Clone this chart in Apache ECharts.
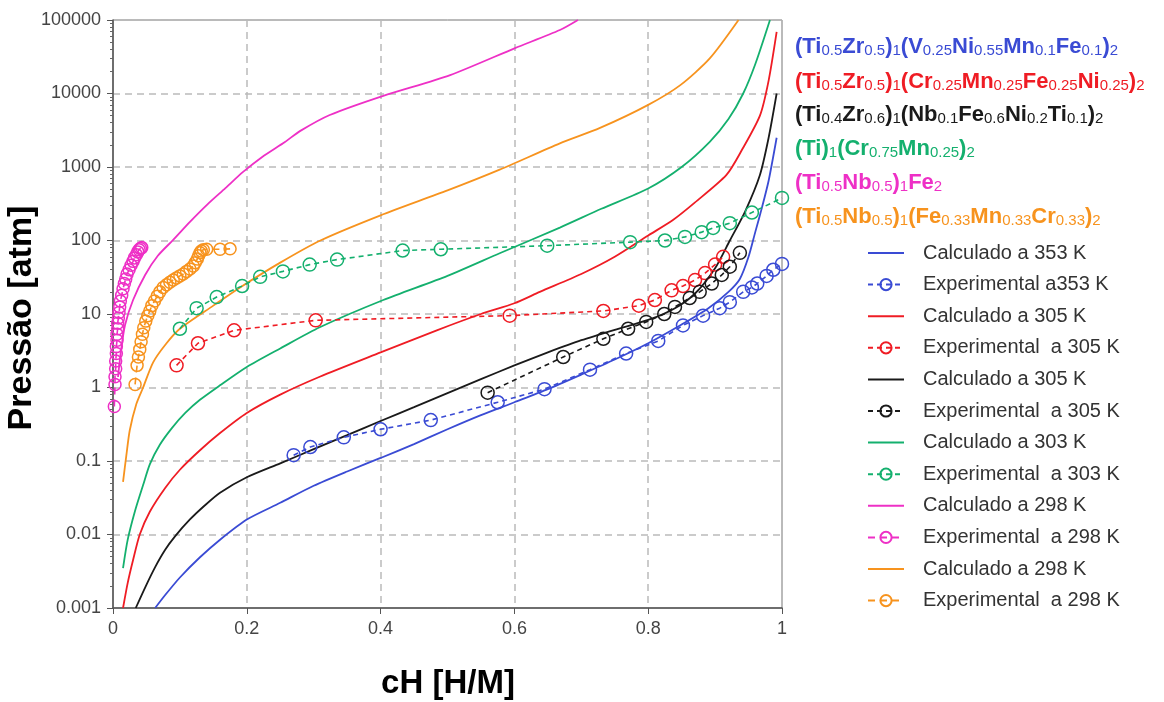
<!DOCTYPE html>
<html><head><meta charset="utf-8">
<script src="https://cdn.jsdelivr.net/npm/echarts@6.0.0/dist/echarts.min.js"></script>
<style>html,body{margin:0;padding:0;background:#fff}#c{width:1164px;height:702px}</style>
</head><body><div id="c"></div>
<script>
// ---------- data (cH [H/M], pressure [atm]) ----------
const xTickLabels = ['0','0.2','0.4','0.6','0.8','1'];
const yTickValues = [0.001,0.01,0.1,1,10,100,1000,10000,100000];
const yTickLabels = ['0.001','0.01','0.1','1','10','100','1000','10000','100000'];

const legendNames = ['Calculado a 353 K','Experimental a353 K','Calculado a 305 K','Experimental  a 305 K',
  'Calculado a 305 K ','Experimental  a 305 K ','Calculado a 303 K','Experimental  a 303 K',
  'Calculado a 298 K','Experimental  a 298 K','Calculado a 298 K ','Experimental  a 298 K '];

const formulas = [
  '(Ti_{0.5}Zr_{0.5})_{1}(V_{0.25}Ni_{0.55}Mn_{0.1}Fe_{0.1})_{2}',
  '(Ti_{0.5}Zr_{0.5})_{1}(Cr_{0.25}Mn_{0.25}Fe_{0.25}Ni_{0.25})_{2}',
  '(Ti_{0.4}Zr_{0.6})_{1}(Nb_{0.1}Fe_{0.6}Ni_{0.2}Ti_{0.1})_{2}',
  '(Ti)_{1}(Cr_{0.75}Mn_{0.25})_{2}',
  '(Ti_{0.5}Nb_{0.5})_{1}Fe_{2}',
  '(Ti_{0.5}Nb_{0.5})_{1}(Fe_{0.33}Mn_{0.33}Cr_{0.33})_{2}'
];

const calc353 = [[0.063,0.001],[0.078,0.0015],[0.1,0.0026],[0.13,0.0049],[0.16,0.0085],[0.2,0.016],[0.25,0.027],[0.3,0.046],[0.35,0.072],[0.4,0.11],[0.45,0.17],[0.5,0.27],[0.55,0.42],[0.6,0.63],[0.65,0.95],[0.7,1.5],[0.75,2.4],[0.8,4],[0.85,7.2],[0.89,12],[0.92,20],[0.937,30],[0.95,60],[0.96,130],[0.97,280],[0.98,650],[0.992,2500]];
const exp353 = [[0.27,0.12],[0.295,0.155],[0.345,0.21],[0.40,0.27],[0.475,0.36],[0.575,0.63],[0.645,0.95],[0.713,1.75],[0.767,2.9],[0.815,4.3],[0.852,7],[0.882,9.5],[0.907,12],[0.922,14.5],[0.942,20],[0.955,23],[0.963,26],[0.977,33],[0.987,40],[1.0,48]];

const calc305a = [[0.015,0.001],[0.022,0.0022],[0.03,0.0045],[0.04,0.01],[0.055,0.0204],[0.078,0.043],[0.1,0.076],[0.13,0.14],[0.16,0.24],[0.2,0.45],[0.25,0.8],[0.309,1.4],[0.4,3],[0.484,6],[0.55,10],[0.6,14],[0.638,20],[0.7,35],[0.75,60],[0.8,117],[0.837,190],[0.87,330],[0.917,780],[0.94,1700],[0.967,5000],[0.98,15000],[0.992,69000]];
const exp305a = [[0.095,2.0],[0.127,4],[0.181,6],[0.303,8.2],[0.593,9.5],[0.733,11],[0.786,13],[0.81,15.5],[0.835,21],[0.852,24],[0.87,29],[0.885,36],[0.9,47],[0.912,60]];

const calc305b = [[0.034,0.001],[0.048,0.0019],[0.063,0.0036],[0.078,0.0062],[0.093,0.0095],[0.115,0.016],[0.1375,0.025],[0.16,0.037],[0.2,0.06],[0.25,0.093],[0.3,0.145],[0.35,0.225],[0.4,0.35],[0.45,0.54],[0.5,0.84],[0.55,1.3],[0.6,2.0],[0.65,3.0],[0.7,4.4],[0.75,6.1],[0.8,8.3],[0.84,12],[0.87,19],[0.9,42],[0.922,100],[0.945,250],[0.967,780],[0.98,2500],[0.992,10000]];
const exp305b = [[0.56,0.85],[0.673,2.6],[0.733,4.6],[0.77,6.3],[0.797,7.8],[0.824,10],[0.84,12.5],[0.862,16.5],[0.877,20],[0.895,26],[0.91,34],[0.922,44],[0.937,68]];

const calc303 = [[0.015,0.0035],[0.022,0.0085],[0.033,0.021],[0.045,0.047],[0.055,0.09],[0.07,0.166],[0.088,0.28],[0.108,0.45],[0.13,0.68],[0.16,1.07],[0.2,1.9],[0.25,3.4],[0.309,6.6],[0.404,15.5],[0.5,33],[0.578,67],[0.668,150],[0.73,270],[0.8,510],[0.85,1000],[0.892,2200],[0.92,4500],[0.942,10000],[0.96,25000],[0.982,100000]];
const exp303 = [[0.1,6.3],[0.125,12],[0.155,17],[0.193,24],[0.22,32],[0.254,38],[0.294,47],[0.335,55],[0.433,73],[0.49,76],[0.649,85],[0.773,95],[0.825,100],[0.855,112],[0.88,130],[0.897,148],[0.922,172],[0.955,240],[1.0,380]];

const calc298a = [[0.0075,1.39],[0.012,3.2],[0.018,7.1],[0.03,15.5],[0.048,34],[0.067,62],[0.09,102],[0.115,179],[0.142,315],[0.168,515],[0.194,850],[0.223,1370],[0.257,2190],[0.28,3100],[0.324,5100],[0.404,9300],[0.504,17800],[0.601,41500],[0.668,73000],[0.695,100000]];
const exp298a = [[0.002,0.55],[0.003,1.1],[0.003,1.4],[0.004,1.8],[0.004,2.3],[0.005,2.9],[0.005,3.6],[0.006,4.4],[0.006,5.3],[0.007,6.3],[0.007,7.5],[0.008,8.8],[0.009,10.5],[0.010,12.5],[0.011,15],[0.013,18],[0.015,22],[0.017,26],[0.019,30],[0.021,35],[0.024,40],[0.027,46],[0.03,52],[0.032,58],[0.035,64],[0.037,70],[0.039,75],[0.041,78],[0.043,80]];

const calc298b = [[0.015,0.052],[0.02,0.12],[0.025,0.26],[0.035,0.6],[0.045,1.0],[0.06,2.2],[0.08,4],[0.1,6.3],[0.15,13],[0.19,23],[0.25,50],[0.31,100],[0.4,220],[0.5,480],[0.578,920],[0.668,2100],[0.728,3400],[0.8,7000],[0.848,13000],[0.892,30000],[0.935,100000]];
const exp298b = [[0.033,1.1],[0.036,2.0],[0.038,2.6],[0.04,3.3],[0.042,4.2],[0.044,5.3],[0.046,6.5],[0.049,8],[0.052,9.5],[0.055,11],[0.058,13],[0.062,15],[0.066,17.5],[0.07,20],[0.075,23],[0.08,25],[0.085,27],[0.09,29],[0.095,31],[0.1,33],[0.105,35],[0.11,38],[0.115,41],[0.12,45],[0.123,50],[0.126,56],[0.128,62],[0.13,68],[0.132,72],[0.135,75],[0.14,76],[0.16,76],[0.175,77]];

const colors = ['#3a4bd4','#ef1c24','#1a1a1a','#14b06e','#ee30c6','#f7931e'];

// ---------- chart ----------
const FONT = '"Liberation Sans", Arial, sans-serif';
const chart = echarts.init(document.getElementById('c'), null, {renderer:'canvas'});

function calcSeries(name, data, color){
  return {name, type:'line', data, symbol:'none', smooth:0.25,
    lineStyle:{color, width:1.8}, itemStyle:{color}, z:2};
}
function expSeries(name, data, color, dense){
  return {name, type:'line', data, symbol:'circle', symbolSize: dense?12:13, showAllSymbol:true,
    lineStyle:{color, width:1.6, type: dense?[7,5]:[5,4]},
    itemStyle:{color:'rgba(255,255,255,0)', borderColor:color, borderWidth:1.5}, z:3};
}
const series = [
  calcSeries(legendNames[0], calc353, colors[0]), expSeries(legendNames[1], exp353, colors[0]),
  calcSeries(legendNames[2], calc305a, colors[1]), expSeries(legendNames[3], exp305a, colors[1]),
  calcSeries(legendNames[4], calc305b, colors[2]), expSeries(legendNames[5], exp305b, colors[2]),
  calcSeries(legendNames[6], calc303, colors[3]), expSeries(legendNames[7], exp303, colors[3]),
  calcSeries(legendNames[8], calc298a, colors[4]), expSeries(legendNames[9], exp298a, colors[4], true),
  calcSeries(legendNames[10], calc298b, colors[5]), expSeries(legendNames[11], exp298b, colors[5], true)
];

function toRich(f){
  return '{m|' + f.replace(/_\{([^}]*)\}/g, '}{s|$1}{m|') + '}';
}
const formulaY = [45,80,113,147,181,215];
const graphics = formulas.map((f,i)=>({
  type:'text', x:795, y:formulaY[i], z:10,
  style:{text:toRich(f), verticalAlign:'middle', align:'left',
    rich:{
      m:{fontFamily:FONT, fontSize:22, fontWeight:'bold', fill:colors[i], lineHeight:26, verticalAlign:'bottom'},
      s:{fontFamily:FONT, fontSize:15, fontWeight:'normal', fill:colors[i], lineHeight:15, verticalAlign:'bottom'}
    }}
}));
graphics.push({type:'text', x:22, y:318, rotation:Math.PI/2, z:10,
  style:{text:'Pressão [atm]', fontFamily:FONT, fontSize:34, fontWeight:'bold', fill:'#000', align:'center', verticalAlign:'middle'}});
graphics.push({type:'text', x:448, y:684, z:10,
  style:{text:'cH [H/M]', fontFamily:FONT, fontSize:33, fontWeight:'bold', fill:'#000', align:'center', verticalAlign:'middle'}});

function yLabel(v){
  const lv = Math.log10(v);
  let best = 0, bd = 1e9;
  yTickValues.forEach((t,i)=>{const d=Math.abs(Math.log10(t)-lv); if(d<bd){bd=d;best=i;}});
  return yTickLabels[best];
}

const legendData = legendNames.map((n,i)=> i%2===0 ? {name:n, itemStyle:{opacity:0}} : {name:n});

chart.setOption({
  backgroundColor:'#fff',
  animation:false,
  textStyle:{fontFamily:FONT},
  grid:{left:113, right:382, top:20, bottom:94, show:true, borderColor:'#777', borderWidth:1},
  xAxis:{type:'value', min:0, max:1, interval:0.2,
    axisLine:{show:true, onZero:false, lineStyle:{color:'#555', width:1.5}},
    axisTick:{show:true, length:6, lineStyle:{color:'#555'}},
    axisLabel:{fontSize:18, color:'#444', margin:12, fontFamily:FONT,
      formatter:(v)=>xTickLabels[Math.round(v/0.2)]},
    splitLine:{show:true, lineStyle:{color:'#bbb', width:1.5, type:[7,5]}}},
  yAxis:{type:'log', logBase:10, min:0.001, max:100000, interval:1,
    axisLine:{show:true, lineStyle:{color:'#555', width:1.5}},
    axisTick:{show:true, length:6, lineStyle:{color:'#555'}},
    minorTick:{show:true, splitNumber:9, length:3, lineStyle:{color:'#666'}},
    axisLabel:{fontSize:18, color:'#444', margin:12, fontFamily:FONT, formatter:yLabel},
    splitLine:{show:true, lineStyle:{color:'#bbb', width:1.5, type:[7,5]}}},
  legend:{orient:'vertical', left:862, top:238, itemWidth:36, itemHeight:14, itemGap:11.6,
    data:legendData, selectedMode:false,
    textStyle:{fontSize:20, color:'#333', lineHeight:20, fontFamily:FONT, padding:[0,0,0,14]}},
  graphic:graphics,
  series
});
</script></body></html>
